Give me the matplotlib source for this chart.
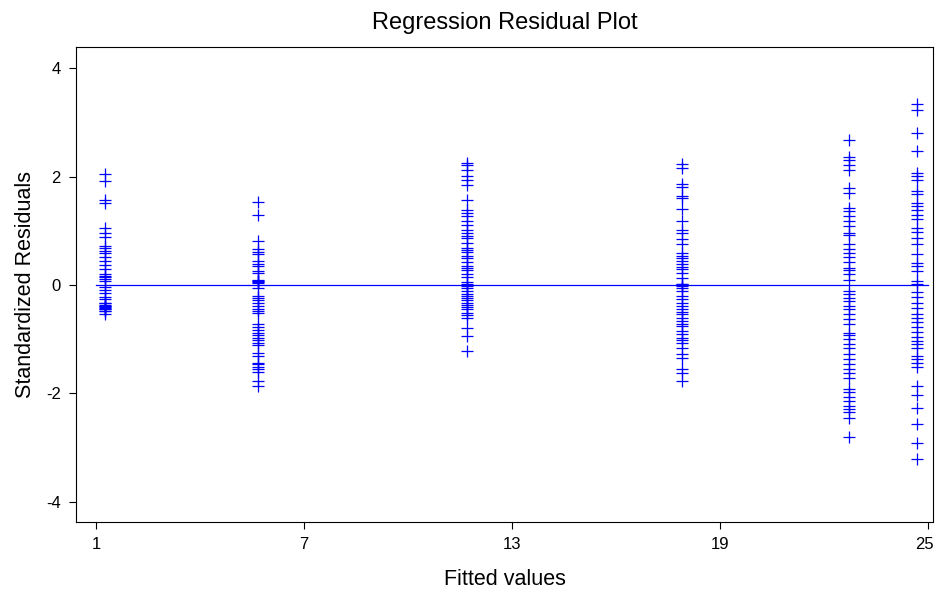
import matplotlib
matplotlib.use("Agg")
import matplotlib.pyplot as plt
from matplotlib.transforms import ScaledTranslation

plt.rcParams['font.family'] = ['Liberation Sans', 'DejaVu Sans']
plt.rcParams['axes.unicode_minus'] = False

# fitted values (x position of each group)
fitted_groups = [1.26, 5.67, 11.70, 17.90, 22.71, 24.67]

# standardized residuals per fitted-value group
res_g1 = [2.04, 1.92, 1.56, 1.51, 1.06, 0.96, 0.88, 0.72, 0.68, 0.63, 0.60, 0.52, 0.44,
          0.37, 0.29, 0.20, 0.17, 0.14, 0.12, 0.07, -0.04, -0.10, -0.14, -0.22, -0.26,
          -0.33, -0.34, -0.36, -0.38, -0.39, -0.41, -0.42, -0.44, -0.45, -0.47, -0.48, -0.53]
res_g2 = [1.53, 1.30, 0.81, 0.66, 0.61, 0.57, 0.44, 0.39, 0.35, 0.26, 0.23, 0.10, 0.08,
          0.07, 0.05, 0.04, -0.05, -0.20, -0.23, -0.28, -0.34, -0.39, -0.44, -0.48, -0.51,
          -0.72, -0.77, -0.82, -0.88, -0.92, -0.97, -1.02, -1.06, -1.11, -1.25, -1.31,
          -1.43, -1.46, -1.51, -1.55, -1.60, -1.77, -1.86]
res_g3 = [2.25, 2.21, 2.13, 2.01, 1.93, 1.84, 1.56, 1.38, 1.33, 1.27, 1.18, 1.11, 1.01,
          0.96, 0.90, 0.86, 0.78, 0.69, 0.64, 0.61, 0.53, 0.49, 0.43, 0.35, 0.31, 0.27,
          0.21, 0.15, 0.06, 0.02, -0.02, -0.06, -0.11, -0.16, -0.20, -0.23, -0.28, -0.33,
          -0.36, -0.41, -0.45, -0.51, -0.55, -0.60, -0.79, -0.94, -1.22]
res_g4 = [2.24, 2.16, 1.86, 1.81, 1.64, 1.61, 1.41, 1.19, 1.01, 0.96, 0.84, 0.76, 0.60,
          0.53, 0.49, 0.44, 0.38, 0.33, 0.29, 0.23, 0.13, 0.02, 0.01, -0.02, -0.05, -0.11,
          -0.20, -0.26, -0.33, -0.39, -0.45, -0.49, -0.54, -0.60, -0.66, -0.71, -0.76,
          -0.85, -0.91, -0.97, -1.02, -1.06, -1.16, -1.27, -1.34, -1.55, -1.62, -1.77]
res_g5 = [2.67, 2.37, 2.30, 2.22, 2.13, 1.79, 1.70, 1.43, 1.36, 1.27, 1.18, 1.09, 0.96,
          0.93, 0.75, 0.66, 0.60, 0.52, 0.42, 0.32, 0.28, 0.20, 0.10, -0.11, -0.17, -0.23,
          -0.29, -0.39, -0.44, -0.54, -0.63, -0.72, -0.88, -0.93, -1.00, -1.09, -1.17,
          -1.28, -1.37, -1.46, -1.54, -1.63, -1.71, -1.92, -1.98, -2.06, -2.14, -2.23,
          -2.28, -2.35, -2.45, -2.81]
res_g6 = [3.34, 3.22, 2.81, 2.47, 2.07, 2.01, 1.93, 1.73, 1.68, 1.52, 1.46, 1.39, 1.30,
          1.21, 1.06, 0.97, 0.87, 0.75, 0.57, 0.41, 0.35, 0.26, 0.07, 0.01, -0.12, -0.22,
          -0.33, -0.42, -0.53, -0.61, -0.69, -0.77, -0.86, -0.96, -1.03, -1.09, -1.16,
          -1.31, -1.37, -1.43, -1.51, -1.86, -2.03, -2.26, -2.57, -2.91, -3.21]

residual_groups = [res_g1, res_g2, res_g3, res_g4, res_g5, res_g6]

x_ticks = [1, 7, 13, 19, 25]
y_ticks = [-4, -2, 0, 2, 4]

fig = plt.figure(figsize=(9.35, 5.90), dpi=100)
ax = fig.add_axes([76/935, 1 - 522/590, (933 - 76)/935, (522 - 47)/590])

for xv, res in zip(fitted_groups, residual_groups):
    ax.plot([xv] * len(res), res, linestyle='none', marker='+', color='#0000ff',
            markersize=8.5, markeredgewidth=0.9)

ax.plot([x_ticks[0], x_ticks[-1]], [0, 0], color='#0000ff', linewidth=0.9)

ax.set_xlim(0.423, 25.144)
ax.set_ylim(-4.37, 4.39)
ax.set_xticks(x_ticks)
ax.set_yticks(y_ticks)
ax.tick_params(direction='out', length=5, width=0.8, labelsize=12, pad=6, color='black')
for s in ax.spines.values():
    s.set_linewidth(0.8)

# keep the last x tick label inside the figure (reference shows it at the right edge)
last = ax.get_xticklabels()[-1]
last.set_horizontalalignment('right')
last.set_transform(last.get_transform() + ScaledTranslation(6/100, 0, fig.dpi_scale_trans))

ax.set_title('Regression Residual Plot', fontsize=17, pad=13)
ax.set_xlabel('Fitted values', fontsize=15.5, labelpad=12)
ax.set_ylabel('Standardized Residuals', fontsize=15.5, labelpad=7)

fig.savefig('out.png', dpi=100)
